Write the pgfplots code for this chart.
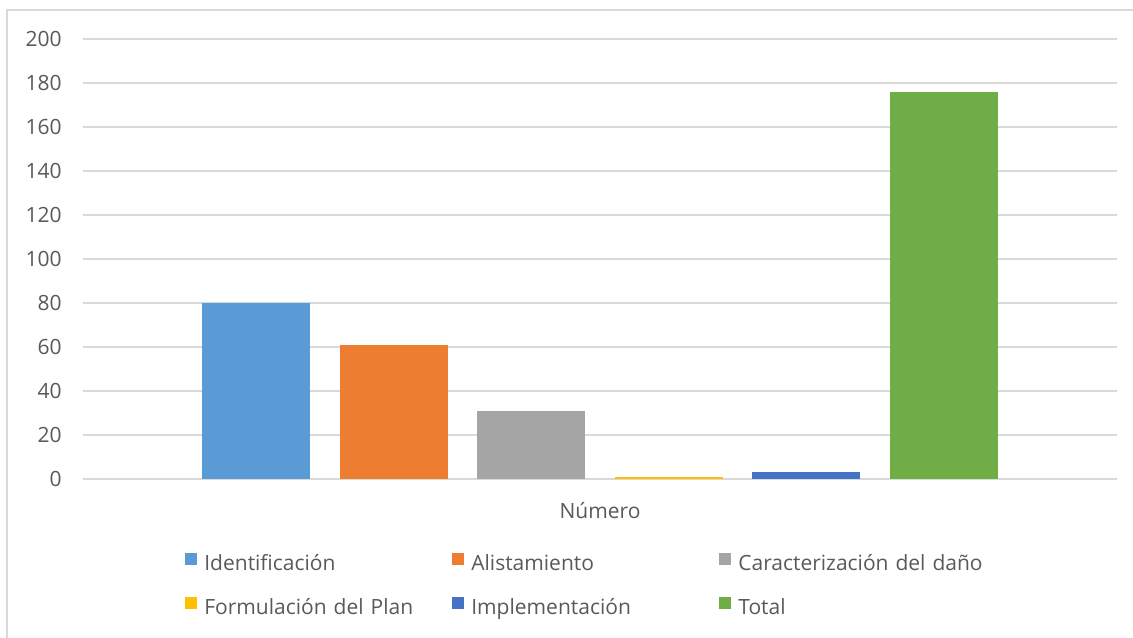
\documentclass[border=0pt]{standalone}
\usepackage{fontspec}
\setmainfont{Open Sans}
\usepackage{pgfplots}
\pgfplotsset{compat=1.18}

\definecolor{cIdent}{HTML}{5B9BD5}
\definecolor{cAlist}{HTML}{ED7D31}
\definecolor{cCarac}{HTML}{A5A5A5}
\definecolor{cForm}{HTML}{FFC000}
\definecolor{cImpl}{HTML}{4472C4}
\definecolor{cTotal}{HTML}{70AD47}
\definecolor{txt}{HTML}{595959}
\definecolor{gridc}{HTML}{D9D9D9}

\begin{document}
\fontsize{10.5pt}{12.6pt}\selectfont
\begin{tikzpicture}
\useasboundingbox (-41.5pt,-79pt) rectangle (525pt,239.5pt);
\draw[line width=0.6pt, color=gridc] (-38pt,234.5pt) rectangle (560pt,-120pt);
\begin{axis}[
    at={(0,0)}, anchor=south west,
    width=517pt, height=220pt, scale only axis,
    ybar=14.75pt, bar width=54pt,
    xmin=-1, xmax=1,
    ymin=0, ymax=200,
    ytick distance=20,
    xtick=\empty,
    ymajorgrids=true,
    grid style={color=gridc, line width=0.6pt},
    axis line style={draw=none},
    major tick length=0pt,
    tick label style={color=txt, /pgf/number format/assume math mode=true},
    yticklabel style={inner sep=0pt, anchor=east},
    yticklabel shift=10.5pt,
    xlabel={Número},
    xlabel style={at={(axis description cs:0.5,0)}, anchor=center, yshift=-16pt, color=txt},
    legend columns=3,
    legend cell align=left,
    legend style={
        at={(axis description cs:0.0986,-0.168)}, anchor=north west,
        draw=none, fill=none, inner sep=0pt, row sep=11.6pt,
        nodes={inner sep=0pt, text=txt},
        /tikz/every even column/.append style={text width=124pt, text height=7.5pt, text depth=2.5pt},
    },
    legend image code/.code={
        \fill[#1] (0pt,-0.3pt) rectangle (6pt,5.7pt);
        \path (9.5pt,0pt);
    },
]
\addplot[fill=cIdent, draw=none] coordinates {(0,80)};
\addplot[fill=cAlist, draw=none] coordinates {(0,61)};
\addplot[fill=cCarac, draw=none] coordinates {(0,31)};
\addplot[fill=cForm, draw=none] coordinates {(0,1)};
\addplot[fill=cImpl, draw=none] coordinates {(0,3)};
\addplot[fill=cTotal, draw=none] coordinates {(0,176)};
\legend{Identificación, Alistamiento, Caracterización del daño, Formulación del Plan, Implementación, Total}
\end{axis}
\end{tikzpicture}
\end{document}
